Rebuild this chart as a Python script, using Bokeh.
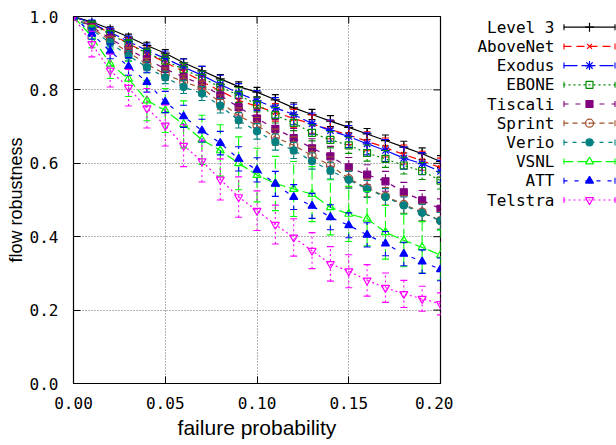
from math import pi
from bokeh.plotting import figure
from bokeh.models import Range1d, FixedTicker, PrintfTickFormatter, ColumnDataSource
from bokeh.layouts import row
from bokeh.embed import file_html
from bokeh.resources import INLINE
from bokeh.core.properties import value

# ---------------- data ----------------
failure_prob = [0.00, 0.01, 0.02, 0.03, 0.04, 0.05, 0.06, 0.07, 0.08, 0.09, 0.10,
                0.11, 0.12, 0.13, 0.14, 0.15, 0.16, 0.17, 0.18, 0.19, 0.20]

series_names = ["Level 3", "AboveNet", "Exodus", "EBONE", "Tiscali",
                "Sprint", "Verio", "VSNL", "ATT", "Telstra"]

level3 = [1.000, 0.985, 0.966, 0.944, 0.921, 0.900, 0.874, 0.852, 0.830, 0.809, 0.794,
          0.773, 0.751, 0.733, 0.715, 0.698, 0.680, 0.662, 0.644, 0.626, 0.605]
abovenet = [1.000, 0.980, 0.955, 0.926, 0.900, 0.875, 0.850, 0.823, 0.797, 0.772, 0.755,
            0.739, 0.722, 0.707, 0.692, 0.677, 0.660, 0.643, 0.624, 0.607, 0.588]
exodus = [1.000, 0.982, 0.957, 0.932, 0.907, 0.886, 0.862, 0.840, 0.815, 0.791, 0.771,
          0.751, 0.733, 0.708, 0.689, 0.673, 0.653, 0.635, 0.614, 0.599, 0.578]
ebone = [1.000, 0.978, 0.952, 0.925, 0.900, 0.880, 0.856, 0.833, 0.807, 0.786, 0.760,
         0.731, 0.710, 0.683, 0.664, 0.649, 0.628, 0.612, 0.594, 0.579, 0.553]
tiscali = [1.000, 0.972, 0.940, 0.910, 0.884, 0.857, 0.835, 0.815, 0.785, 0.753, 0.722,
           0.694, 0.669, 0.641, 0.619, 0.589, 0.569, 0.551, 0.521, 0.499, 0.476]
sprint = [1.000, 0.968, 0.935, 0.902, 0.870, 0.843, 0.822, 0.805, 0.766, 0.730, 0.703,
          0.671, 0.649, 0.621, 0.594, 0.558, 0.533, 0.510, 0.488, 0.467, 0.444]
verio = [1.000, 0.964, 0.928, 0.893, 0.862, 0.834, 0.808, 0.790, 0.757, 0.717, 0.687,
         0.658, 0.635, 0.606, 0.580, 0.555, 0.530, 0.508, 0.485, 0.465, 0.443]
vsnl = [1.000, 0.945, 0.871, 0.830, 0.771, 0.744, 0.706, 0.664, 0.635, 0.600, 0.568,
        0.545, 0.530, 0.516, 0.480, 0.462, 0.449, 0.412, 0.390, 0.371, 0.350]
att = [1.000, 0.953, 0.905, 0.864, 0.821, 0.767, 0.728, 0.689, 0.655, 0.612, 0.582,
       0.544, 0.508, 0.484, 0.453, 0.431, 0.405, 0.381, 0.353, 0.332, 0.311]
telstra = [1.000, 0.925, 0.853, 0.806, 0.750, 0.703, 0.648, 0.606, 0.556, 0.508, 0.471,
           0.433, 0.398, 0.362, 0.326, 0.306, 0.281, 0.261, 0.244, 0.231, 0.217]

level3_err = [0, .004, .006, .008, .009, .010, .011, .012, .012, .013, .013,
              .014, .014, .014, .015, .015, .015, .015, .016, .016, .016]
abovenet_err = [0, .008, .012, .015, .017, .019, .020, .021, .022, .023, .024,
                .024, .025, .025, .025, .026, .026, .026, .026, .026, .026]
exodus_err = [0, .008, .012, .015, .018, .020, .022, .024, .025, .026, .027,
              .028, .028, .029, .029, .030, .030, .030, .030, .030, .030]
ebone_err = [0, .006, .010, .012, .014, .016, .017, .018, .019, .020, .020,
             .021, .021, .022, .022, .022, .022, .023, .023, .023, .023]
tiscali_err = [0, .008, .012, .015, .017, .019, .021, .022, .023, .024, .025,
               .025, .026, .026, .027, .027, .027, .027, .027, .027, .027]
sprint_err = [0, .008, .011, .014, .016, .017, .018, .019, .020, .021, .022,
              .022, .023, .023, .023, .023, .024, .024, .024, .024, .024]
verio_err = [0, .008, .011, .014, .016, .017, .018, .019, .020, .021, .021,
             .022, .022, .022, .023, .023, .023, .023, .023, .023, .023]
vsnl_err = [0, .030, .040, .048, .055, .060, .064, .067, .070, .072, .073,
            .074, .075, .075, .075, .075, .074, .073, .072, .070, .068]
att_err = [0, .015, .020, .024, .027, .029, .030, .031, .032, .033, .033,
           .034, .034, .034, .034, .034, .033, .033, .032, .032, .031]
telstra_err = [0, .035, .045, .050, .054, .056, .057, .057, .056, .055, .054,
               .053, .051, .049, .047, .045, .043, .040, .037, .034, .030]

x_ticks = [0.00, 0.05, 0.10, 0.15, 0.20]
y_ticks = [0.0, 0.2, 0.4, 0.6, 0.8, 1.0]

values = [level3, abovenet, exodus, ebone, tiscali, sprint, verio, vsnl, att, telstra]
errors = [level3_err, abovenet_err, exodus_err, ebone_err, tiscali_err,
          sprint_err, verio_err, vsnl_err, att_err, telstra_err]

# ---------------- styles ----------------
colors = ["#000000", "#ff0000", "#0000ff", "#008a00", "#800080",
          "#a0522d", "#008080", "#00ff00", "#0000ff", "#ff00ff"]
dashes = ["solid", "8 5", "14 4", "2 3", "5 7", "5 4", "4 5", "10 4", "4 7", "2 3"]
markers = ["cross", "x", "asterisk", "square", "square", "circle_dot",
           "circle", "triangle", "triangle", "inverted_triangle"]
filled = [False, False, False, False, True, False, True, False, True, False]
msizes = [9, 7, 9, 7, 7, 8, 7, 8, 8, 8]

MONO = "DejaVu Sans Mono"
SANS = "Liberation Sans"

p = figure(width=453, height=445, x_range=Range1d(0, 0.2), y_range=Range1d(0, 1),
           output_backend="svg", toolbar_location=None,
           min_border_left=73, min_border_right=13, min_border_top=16, min_border_bottom=62)
p.outline_line_color = "black"
p.outline_line_width = 1.2

xa = p.xaxis[0]
ya = p.yaxis[0]
for ax in (xa, ya):
    ax.major_tick_in = 7
    ax.major_tick_out = 0
    ax.minor_tick_line_color = None
    ax.axis_line_color = "black"
    ax.major_tick_line_color = "black"
    ax.major_label_text_font = MONO
    ax.major_label_text_font_size = "16px"
    ax.major_label_text_color = "black"
    ax.axis_label_text_font = SANS
    ax.axis_label_text_font_style = "normal"
    ax.axis_label_text_color = "black"

xa.ticker = FixedTicker(ticks=x_ticks)
ya.ticker = FixedTicker(ticks=y_ticks)
xa.formatter = PrintfTickFormatter(format="%.2f")
ya.formatter = PrintfTickFormatter(format="%.1f")
xa.major_label_standoff = 13
ya.major_label_standoff = 15

xa.axis_label = "failure probability"
xa.axis_label_text_font_size = "21px"
xa.axis_label_standoff = 4
ya.axis_label = "flow robustness"
ya.axis_label_text_font_size = "18px"
ya.axis_label_standoff = 1

p.xgrid.ticker = FixedTicker(ticks=x_ticks[1:-1])
p.ygrid.ticker = FixedTicker(ticks=y_ticks[1:-1])
p.grid.grid_line_color = "#666666"
p.grid.grid_line_dash = "1 2"
p.grid.grid_line_width = 1

for vals, errs, c, d, m, f, s in zip(values, errors, colors, dashes, markers, filled, msizes):
    src = ColumnDataSource(dict(
        x=failure_prob, y=vals,
        lo=[v - e for v, e in zip(vals, errs)],
        hi=[v + e for v, e in zip(vals, errs)]))
    p.line("x", "y", source=src, line_color=c, line_dash=d, line_width=1.2)
    p.segment(x0="x", y0="lo", x1="x", y1="hi", source=src, line_color=c,
              line_dash=d, line_width=1.1)
    p.scatter("x", "lo", source=src, marker="dash", size=7, line_color=c, line_width=1.1)
    p.scatter("x", "hi", source=src, marker="dash", size=7, line_color=c, line_width=1.1)
    p.scatter("x", "y", source=src, marker=m, size=s, line_color=c, line_width=1.2,
              fill_color=c if f else None)

# mirrored tick marks on the top and right edges (clipped to the frame -> inward)
p.scatter(x=x_ticks, y=[y_ticks[-1]] * len(x_ticks), marker="dash", angle=pi / 2,
          size=14, line_color="black", line_width=1)
p.scatter(x=[x_ticks[-1]] * len(y_ticks), y=y_ticks, marker="dash",
          size=14, line_color="black", line_width=1)

# ---------------- legend panel ----------------
# (row layout aligns this panel's frame with the main frame: page y 16..383)
lg = figure(width=163, height=445, x_range=Range1d(453, 616), y_range=Range1d(383, 16),
            output_backend="svg", toolbar_location=None, min_border=0,
            x_axis_type=None, y_axis_type=None)
lg.outline_line_color = None
lg.grid.visible = False
lg.title.visible = False

row_y = [26.7 + 19.2 * i for i in range(len(series_names))]
lg.text(x=[554] * len(series_names), y=row_y, text=series_names,
        text_align="right", text_baseline="middle",
        text_font=value(MONO), text_font_size="16px", text_color="black")
for yy, c, d, m, f, s in zip(row_y, colors, dashes, markers, filled, msizes):
    lg.line([563, 615], [yy, yy], line_color=c, line_dash=d, line_width=1.2)
    lg.segment(x0=[563.5, 614.5], y0=[yy - 3, yy - 3], x1=[563.5, 614.5], y1=[yy + 3, yy + 3],
               line_color=c, line_width=1.1)
    lg.scatter([589], [yy], marker=m, size=s, line_color=c, line_width=1.2,
               fill_color=c if f else None)

layout = row(p, lg)
open("out.html", "w").write(file_html(layout, INLINE))
